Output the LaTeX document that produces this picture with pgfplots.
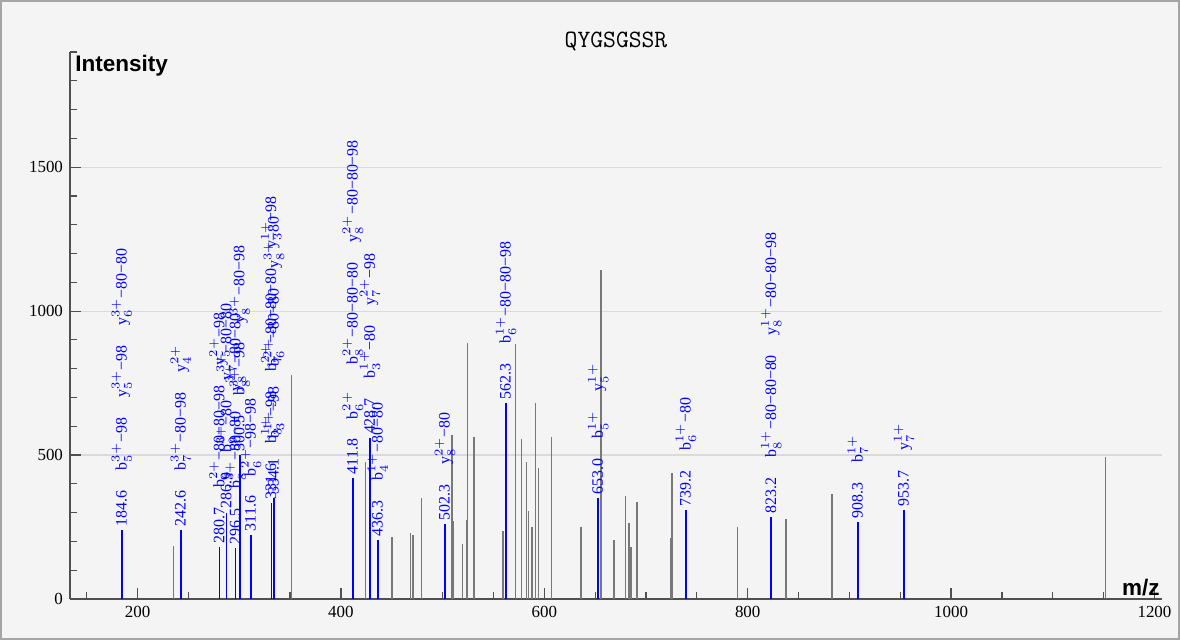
\documentclass[border=0pt]{standalone}
\usepackage{fontspec}
\setmainfont{Liberation Serif}
\newfontfamily\arialfont{Liberation Sans}
\usepackage{pgfplots}
\pgfplotsset{compat=1.18}

\definecolor{bg}{RGB}{244,244,244}
\definecolor{framegray}{RGB}{165,165,165}
\definecolor{axgray}{RGB}{80,80,80}
\definecolor{gridgray}{RGB}{218,218,218}
\definecolor{peakgray}{RGB}{120,120,120}

% ion label: letter, index, charge
\protected\def\ion#1#2#3{#1$_{#2}^{#3}$}
\protected\def\gap{\hspace{10bp}}

\begin{document}
\begin{tikzpicture}
\path[use as bounding box] (0,0) rectangle (590bp,320bp);
\draw[framegray, line width=1.2bp, fill=bg] (0.6bp,0.6bp) rectangle (589.4bp,319.4bp);
\begin{axis}[
    at={(35bp,20.5bp)}, anchor=south west,
    scale only axis, width=546bp, height=273.5bp,
    xmin=133.6, xmax=1207.4, ymin=0, ymax=1900,
    axis x line*=bottom, axis y line*=left,
    axis line style={axgray, line width=1bp, -},
    xtick={200,400,...,1200}, minor xtick={150,200,...,1200},
    ytick={0,500,1000,1500}, minor ytick={0,100,...,1900},
    tick align=inside,
    major tick length=5.5bp, minor tick length=3.5bp,
    tick style={axgray, line width=0.6bp},
    ymajorgrids, grid style={gridgray, line width=0.6bp},
    ticklabel style={font=\fontsize{8.5}{10}\selectfont},
    /pgf/number format/assume math mode=true,
    /pgf/number format/set thousands separator={},
    title={QYGSGSSR},
    title style={font=\ttfamily\fontsize{12.5}{14}\selectfont, at={(0.5,1)}, anchor=base, yshift=-3.5bp},
    clip=false,
    ]
% unannotated peaks
\addplot[ycomb, peakgray, line width=0.8bp, mark=none] coordinates {
  (235.5,184) (351.5,778) (424.3,475) (450,215) (468.5,229) (470.8,222)
  (479.4,351) (509.5,569) (510.5,272) (519.4,191) (523.4,274) (524.6,890)
  (530.7,563) (559.5,236) (571.7,885) (577.5,556) (582.4,476) (584.3,304)
  (588,251) (591.2,682) (594.2,454) (607,564) (635.8,251) (655.5,1142)
  (668.6,205) (679.8,359) (683,263) (685,182) (691,338) (724.6,211)
  (725.8,436) (790,251) (837.6,277) (883,363) (1152,492)
};
% annotated peaks
\addplot[ycomb, blue, line width=0.8bp, mark=none,
    nodes near coords, point meta=explicit symbolic,
    every node near coord/.style={rotate=90, anchor=west, inner sep=1.5bp,
      text=blue, font=\fontsize{8}{9.6}\selectfont}] coordinates {
  (184.6,240) [{184.6\gap\ion{b}{5}{3+}−98\gap\ion{y}{5}{3+}−98\gap\ion{y}{6}{3+}−80−80}]
  (242.6,240) [{242.6\gap\ion{b}{7}{3+}−80−98\gap\ion{y}{4}{2+}}]
  (280.7,180) [{280.7\gap\ion{b}{6}{2+}−80−80−98\gap\ion{y}{5}{2+}−98}]
  (287.6,300) [{286.9\gap\ion{b}{9}{3+}−80\gap\ion{y}{7}{3+}−80−80}]
  (296.5,177) [{296.5\gap\ion{b}{8}{3+}−80−80\gap\ion{y}{8}{3+}−80−80}]
  (300.5,500) [{300.5\gap\ion{b}{8}{3+}−98\gap\ion{y}{8}{3+}−80−98}]
  (311.6,222) [{311.6\gap\ion{b}{6}{2+}−98−98}]
  (331.6,333) [{331.6\gap\ion{b}{3}{1+}−98\gap\ion{b}{7}{2+}−80−80−80\gap\ion{y}{3}{1+}−98}]
  (334.1,350) [{334.1\gap\ion{b}{3}{1+}−98\gap\ion{b}{6}{2+}−80−80\gap\ion{y}{8}{3+}−80}]
  (411.8,420) [{411.8\gap\ion{b}{6}{2+}\gap\hspace{3.5bp}\ion{b}{8}{2+}−80−80−80\gap\ion{y}{8}{2+}−80−80−98}]
  (428.7,560) [{428.7\gap\ion{b}{3}{1+}−80\gap\ion{y}{7}{2+}−98}]
  (436.3,205) [{436.3\gap\ion{b}{4}{1+}−80−80}]
  (502.3,260) [{502.3\gap\ion{y}{8}{2+}−80}]
  (562.3,680) [{562.3\gap\ion{b}{6}{1+}−80−80−98}]
  (653.0,350) [{653.0\gap\ion{b}{5}{1+}\gap\ion{y}{5}{1+}}]
  (739.2,309) [{739.2\gap\ion{b}{6}{1+}−80}]
  (823.2,285) [{823.2\gap\ion{b}{8}{1+}−80−80−80\gap\ion{y}{8}{1+}−80−80−98}]
  (908.3,267) [{908.3\gap\ion{b}{7}{1+}}]
  (953.7,309) [{953.7\gap\ion{y}{7}{1+}}]
};
\node[font=\arialfont\bfseries\fontsize{11.3}{13}\selectfont, anchor=base west,
  inner sep=0, xshift=2.5bp, yshift=-10bp] at (rel axis cs:0,1) {Intensity};
\node[font=\arialfont\bfseries\fontsize{11.3}{13}\selectfont, anchor=base east,
  inner sep=0, xshift=-1bp, yshift=2bp] at (rel axis cs:1,0) {m/z};
\end{axis}
\end{tikzpicture}
\end{document}
